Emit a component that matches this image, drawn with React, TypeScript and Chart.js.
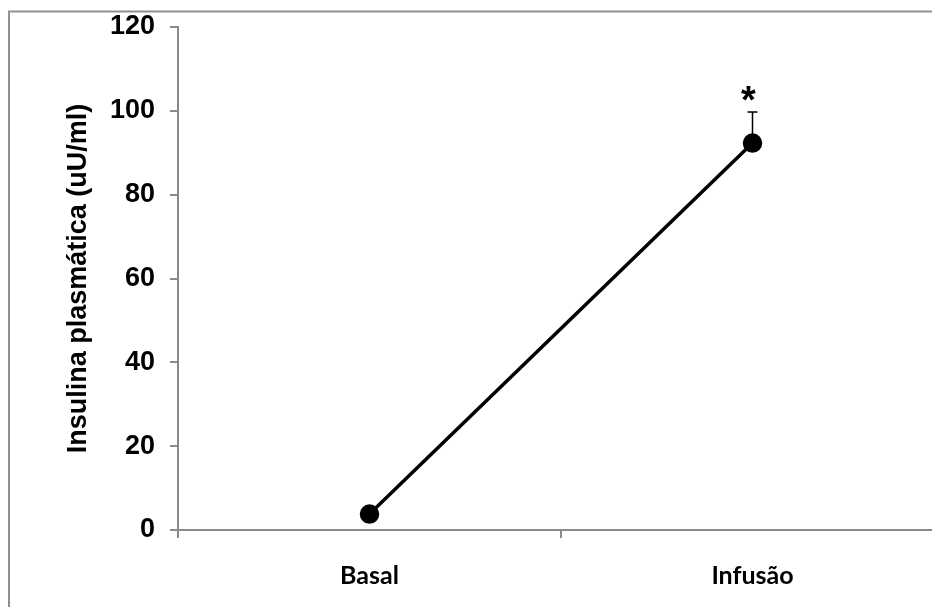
import React, { useEffect, useRef } from "react";
import { Chart, registerables } from "chart.js";

Chart.register(...registerables);

const categories = ["Basal", "Infusão"];
const insulinValues = [3.8, 92.3];
const errorPlus = [0, 7.4];
const significance = ["", "*"];
const yTicks = { min: 0, max: 120, step: 20 };
const yTitle = "Insulina plasmática (uU/ml)";

const AXIS = "#8a8a8a";

const framePlugin = {
  id: "frame",
  beforeDraw(chart: any) {
    const ctx = chart.ctx;
    ctx.save();
    ctx.fillStyle = "#ffffff";
    ctx.fillRect(0, 0, chart.width, chart.height);
    ctx.strokeStyle = "#909090";
    ctx.lineWidth = 2;
    ctx.strokeRect(9, 11.5, 2000, 2000);
    ctx.restore();
  },
};

const errorPlugin = {
  id: "errorbars",
  afterDatasetsDraw(chart: any) {
    const ctx = chart.ctx;
    const x = chart.scales.x;
    const y = chart.scales.y;
    ctx.save();
    insulinValues.forEach((v, i) => {
      const px = x.getPixelForValue(i);
      const top = y.getPixelForValue(v + errorPlus[i]);
      if (errorPlus[i] > 0) {
        const p0 = y.getPixelForValue(v);
        ctx.strokeStyle = "#000";
        ctx.lineWidth = 1.5;
        ctx.beginPath();
        ctx.moveTo(px, p0);
        ctx.lineTo(px, top);
        ctx.moveTo(px - 5, top);
        ctx.lineTo(px + 5, top);
        ctx.stroke();
      }
      if (significance[i]) {
        ctx.fillStyle = "#000";
        ctx.font = "bold 38px 'Liberation Sans', Arial, sans-serif";
        ctx.textAlign = "center";
        ctx.textBaseline = "alphabetic";
        ctx.fillText(significance[i], px - 4, top + 1);
      }
    });
    ctx.restore();
  },
};

export default function App() {
  const ref = useRef<HTMLCanvasElement>(null);
  useEffect(() => {
    if (!ref.current) return;
    const chart = new Chart(ref.current, {
      type: "line",
      data: {
        labels: categories,
        datasets: [
          {
            data: insulinValues,
            borderColor: "#000",
            backgroundColor: "#000",
            borderWidth: 3.5,
            pointRadius: 8,
            pointBackgroundColor: "#000",
            pointBorderColor: "#000",
            tension: 0,
          },
        ],
      },
      options: {
        responsive: false,
        animation: false,
        devicePixelRatio: 1,
        layout: { padding: { left: 0, top: 27, right: 16, bottom: 0 } },
        plugins: { legend: { display: false }, tooltip: { enabled: false } },
        scales: {
          x: {
            type: "category",
            offset: true,
            grid: {
              offset: true,
              drawOnChartArea: false,
              drawTicks: true,
              tickLength: 8,
              color: AXIS,
              lineWidth: 2,
            },
            border: { display: true, color: AXIS, width: 2 },
            ticks: {
              color: "#000",
              padding: 23,
              font: { family: "Lato, 'Open Sans', sans-serif", size: 25, weight: "bold" },
            },
            afterFit(scale: any) {
              scale.height = 90;
              scale.paddingLeft = 0;
              scale.paddingRight = 0;
              scale.paddingTop = 0;
              scale.paddingBottom = 0;
            },
          },
          y: {
            min: yTicks.min,
            max: yTicks.max,
            grid: {
              drawOnChartArea: false,
              drawTicks: true,
              tickLength: 8,
              color: AXIS,
              lineWidth: 2,
            },
            border: { display: true, color: AXIS, width: 2 },
            ticks: {
              stepSize: yTicks.step,
              color: "#000",
              padding: 15,
              font: { family: "'Liberation Sans', Arial, sans-serif", size: 27, weight: "bold" },
            },
            title: {
              display: true,
              text: yTitle,
              color: "#000",
              padding: { top: 62, bottom: 0 },
              font: { family: "'Liberation Sans', Arial, sans-serif", size: 27, weight: "bold", lineHeight: 1.2 },
            },
            afterFit(scale: any) {
              scale.width = 178;
              scale.paddingLeft = 0;
              scale.paddingRight = 0;
              scale.paddingTop = 0;
              scale.paddingBottom = 0;
            },
          },
        },
      },
      plugins: [framePlugin, errorPlugin],
    });
    return () => chart.destroy();
  }, []);
  return (
    <div
      style={{
        position: "fixed",
        left: 0,
        top: 0,
        width: 932,
        height: 607,
        overflow: "hidden",
        background: "#fff",
      }}
    >
      <canvas ref={ref} width={960} height={620} style={{ display: "block" }} />
    </div>
  );
}
